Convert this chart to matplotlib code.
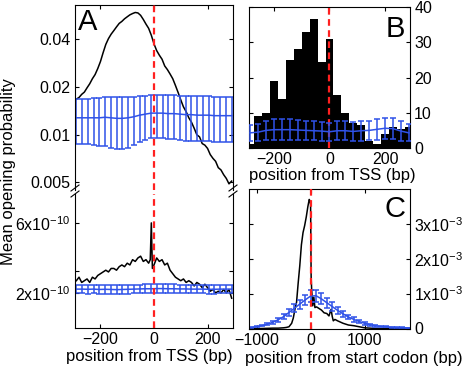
import matplotlib.pyplot as plt
plt.switch_backend('agg')
import numpy as np
from matplotlib.ticker import NullLocator, FixedLocator
from matplotlib.lines import Line2D

plt.rcParams['font.family'] = ['Liberation Sans', 'DejaVu Sans']
plt.rcParams['mathtext.default'] = 'regular'

BLUE = '#2f52e8'
RED = '#ff2020'
W, H = 463.0, 372.0

# ---- panel A, upper part (log axis) ----
a_x = np.arange(-290, 291, 10)
a_top_black = [0.0168, 0.0172, 0.0180, 0.0186, 0.0198, 0.0210, 0.0226, 0.0240, 0.0262, 0.0290,
               0.0330, 0.0372, 0.0405, 0.0432, 0.0455, 0.0480, 0.0505, 0.0520, 0.0540, 0.0556,
               0.0572, 0.0583, 0.0592, 0.0588, 0.0568, 0.0535, 0.0500, 0.0470, 0.0425, 0.0375,
               0.0340, 0.0318, 0.0300, 0.0272, 0.0258, 0.0242, 0.0226, 0.0205, 0.0185, 0.0166,
               0.0150, 0.0140, 0.0128, 0.0120, 0.0110, 0.0100, 0.0097, 0.0088, 0.0086, 0.0082,
               0.0075, 0.0071, 0.0068, 0.0062, 0.0060, 0.0056, 0.0053, 0.0049, 0.0051]

a_err_x = np.linspace(-290, 290, 28)
a_top_blue = [0.0128, 0.0128, 0.0128, 0.0128, 0.0128, 0.0129, 0.0128, 0.0127, 0.0127, 0.0128,
              0.0130, 0.0133, 0.0135, 0.0137, 0.0137, 0.0137, 0.0136, 0.0136, 0.0135, 0.0134,
              0.0134, 0.0133, 0.0133, 0.0133, 0.0132, 0.0132, 0.0132, 0.0132]
a_top_blue_err = [0.0040, 0.0040, 0.0041, 0.0042, 0.0043, 0.0044, 0.0045, 0.0046, 0.0046, 0.0045,
                  0.0044, 0.0043, 0.0042, 0.0042, 0.0042, 0.0042, 0.0042, 0.0042, 0.0042, 0.0042,
                  0.0042, 0.0042, 0.0042, 0.0042, 0.0042, 0.0042, 0.0042, 0.0042]

# ---- panel A, lower part (units of 1e-10) ----
a_bot_x = [-290, -280, -270, -260, -250, -240, -230, -220, -210, -200, -190, -180, -170, -160,
           -150, -140, -130, -120, -110, -100, -90, -80, -70, -60, -50, -40, -30, -20, -14, -10,
           -6, 0, 10, 20, 30, 40, 50, 60, 70, 80, 90, 100, 110, 120, 130, 140, 150, 160, 170,
           180, 190, 200, 210, 220, 230, 240, 250, 260, 270, 280, 290]
a_bot_black = [2.7, 2.9, 2.6, 2.7, 2.8, 2.6, 2.9, 2.8, 3.0, 3.1, 3.2, 3.3, 3.2, 3.4,
               3.4, 3.3, 3.5, 3.6, 3.5, 3.7, 3.6, 3.9, 3.8, 4.0, 4.1, 3.8, 3.9, 3.7, 3.9, 6.0,
               3.4, 3.6, 4.0, 3.8, 3.9, 3.6, 3.7, 3.3, 3.1, 2.9, 2.8, 2.7, 2.8, 2.6, 2.7, 2.6,
               2.4, 2.6, 2.5, 2.3, 2.5, 2.3, 2.1, 2.2, 2.0, 2.1, 2.0, 2.2, 2.0, 2.2, 1.7]
a_bot_blue = [2.22, 2.22, 2.21, 2.22, 2.20, 2.21, 2.20, 2.19, 2.20, 2.21, 2.22, 2.23, 2.24, 2.24,
              2.25, 2.25, 2.24, 2.24, 2.23, 2.23, 2.22, 2.22, 2.22, 2.21, 2.21, 2.22, 2.22, 2.22]
a_bot_blue_err = [0.25] * 28

# ---- panel B ----
b_edges = np.linspace(-300, 300, 22)
b_counts = [1, 9, 10, 19, 14, 25, 28, 33, 36.5, 24.5, 31, 15, 10, 7, 6.5, 2, 1, 4, 6, 5.5, 6]
b_blue = [4.3, 4.5, 5.0, 5.2, 5.2, 5.2, 5.1, 5.0, 4.9, 4.8, 4.6, 4.9, 4.9, 4.7, 4.9, 5.0,
          5.3, 5.6, 5.5, 4.8, 4.3]
b_blue_err = [2.2, 2.4, 2.8, 3.0, 3.0, 3.0, 2.9, 2.8, 2.7, 2.7, 2.6, 2.7, 2.7, 2.6, 2.8, 2.8,
              2.9, 3.0, 3.0, 2.8, 2.4]

# ---- panel C (units of 1e-3) ----
c_x = [-1140, -900, -700, -600, -500, -450, -400, -350, -320, -290, -260, -230, -200, -170,
       -140, -110, -80, -50, -25, -10, 0, 10, 20, 40, 60, 80, 110, 150, 200, 250, 300, 340,
       380, 400, 420, 450, 500, 600, 700, 800, 900, 1000, 1100, 1200, 1400, 1840]
c_black = [0, 0, 0.01, 0.01, 0.02, 0.03, 0.05, 0.15, 0.3, 0.55, 0.75, 1.3, 1.8, 2.4,
           2.75, 2.95, 3.2, 3.5, 3.7, 3.65, 3.55, 1.5, 1.1, 0.65, 0.9, 0.6, 0.62, 0.58, 0.53,
           0.45, 0.43, 0.36, 0.55, 0.35, 0.22, 0.26, 0.22, 0.15, 0.1, 0.08, 0.05, 0.02, 0.01,
           0, 0, 0]
c_blue_x = np.arange(-1100, 1801, 100)
c_blue = [0.03, 0.05, 0.08, 0.12, 0.18, 0.25, 0.34, 0.46, 0.58, 0.70, 0.82, 0.93, 0.94, 0.85,
          0.74, 0.63, 0.52, 0.42, 0.33, 0.26, 0.20, 0.15, 0.11, 0.08, 0.06, 0.045, 0.035,
          0.025, 0.02, 0.015]
c_blue_err = [0.01, 0.015, 0.02, 0.03, 0.04, 0.05, 0.07, 0.09, 0.11, 0.13, 0.15, 0.17, 0.17,
              0.16, 0.14, 0.12, 0.10, 0.09, 0.07, 0.06, 0.05, 0.04, 0.03, 0.025, 0.02, 0.015,
              0.012, 0.01, 0.01, 0.01]

TICK = 11.5
LAB = 12
LW = 1.1


def box(ax):
    ax.tick_params(direction='in', length=3, width=0.8, top=True, right=True,
                   labelsize=TICK, pad=3)
    for s in ax.spines.values():
        s.set_linewidth(0.8)


def red_line(ax):
    ax.axvline(0, color=RED, ls=(0, (3, 2)), lw=1.6, zorder=5)


def blue_bars(ax, x, y, e, **kw):
    ax.errorbar(x, y, yerr=e, color=BLUE, lw=LW, elinewidth=LW, capsize=2,
                capthick=LW, **kw)


fig = plt.figure(figsize=(W / 100, H / 100), dpi=100)

# A upper
ax1 = fig.add_axes([75 / W, 1 - 190 / H, 158 / W, 185 / H])
box(ax1)
ax1.plot(a_x, a_top_black, color='k', lw=LW)
blue_bars(ax1, a_err_x, a_top_blue, a_top_blue_err)
red_line(ax1)
ax1.set_yscale('log')
ax1.set_ylim(0.00448, 0.066)
ax1.set_xlim(-295, 295)
ax1.set_yticks([0.005, 0.01, 0.02, 0.04], labels=['0.005', '0.01', '0.02', '0.04'])
ax1.yaxis.set_minor_locator(NullLocator())
ax1.set_xticks([-200, 0, 200])
ax1.spines['bottom'].set_visible(False)
ax1.tick_params(axis='x', bottom=False, labelbottom=False)
ax1.text(0.02, 0.985, 'A', transform=ax1.transAxes, fontsize=21, va='top', ha='left')

# A lower
ax2 = fig.add_axes([75 / W, 1 - 328 / H, 158 / W, 134 / H])
box(ax2)
ax2.plot(a_bot_x, np.array(a_bot_black) * 1e-10, color='k', lw=LW)
blue_bars(ax2, a_err_x, np.array(a_bot_blue) * 1e-10, np.array(a_bot_blue_err) * 1e-10)
red_line(ax2)
ax2.set_xlim(-295, 295)
ax2.set_ylim(0, 7.65e-10)
ax2.set_yticks([2e-10, 6e-10], labels=['2x10$^{-10}$', '6x10$^{-10}$'])
ax2.yaxis.set_minor_locator(FixedLocator([3.25e-10]))
ax2.tick_params(axis='y', which='minor', direction='in', length=3, width=0.8, right=True)
ax2.set_xticks([-200, 0, 200])
ax2.spines['top'].set_visible(False)
ax2.tick_params(axis='x', top=False)
ax2.set_xlabel('position from TSS (bp)', fontsize=LAB, labelpad=3)
ax2.xaxis.set_label_coords(0.47, -0.16)

# break marks
for xb in (75, 233):
    for yb in (188, 194):
        fig.add_artist(Line2D([(xb - 4) / W, (xb + 4) / W], [1 - (yb + 3) / H, 1 - (yb - 3) / H],
                              color='k', lw=0.8))

fig.text(9 / W, 1 - 172 / H, 'Mean opening probability', rotation=90, fontsize=12,
         ha='center', va='center')

# B
ax3 = fig.add_axes([249 / W, 1 - 148 / H, 161 / W, 141 / H])
box(ax3)
b_centers = (b_edges[:-1] + b_edges[1:]) / 2
ax3.bar(b_centers, b_counts, width=b_edges[1] - b_edges[0], color='k', edgecolor='k', lw=0)
blue_bars(ax3, b_centers, b_blue, b_blue_err, zorder=6)
red_line(ax3)
ax3.set_xlim(-290, 290)
ax3.set_ylim(0, 40)
ax3.set_yticks([0, 10, 20, 30, 40])
ax3.set_xticks([-200, 0, 200])
ax3.tick_params(axis='y', labelleft=False, labelright=True)
ax3.set_xlabel('position from TSS (bp)', fontsize=LAB, labelpad=3)
ax3.xaxis.set_label_coords(0.52, -0.14)
ax3.text(0.97, 0.94, 'B', transform=ax3.transAxes, fontsize=21, va='top', ha='right')

# C
ax4 = fig.add_axes([249 / W, 1 - 328.5 / H, 161 / W, 139.5 / H])
box(ax4)
ax4.plot(c_x, np.array(c_black) * 1e-3, color='k', lw=LW)
blue_bars(ax4, c_blue_x, np.array(c_blue) * 1e-3, np.array(c_blue_err) * 1e-3)
red_line(ax4)
ax4.set_xlim(-1140, 1840)
ax4.set_ylim(0, 4e-3)
ax4.set_yticks([0, 1e-3, 2e-3, 3e-3],
               labels=['0', '1x10$^{-3}$', '2x10$^{-3}$', '3x10$^{-3}$'])
ax4.set_xticks([-1000, 0, 1000])
ax4.tick_params(axis='y', labelleft=False, labelright=True)
ax4.set_xlabel('position from start codon (bp)', fontsize=LAB, labelpad=3)
ax4.xaxis.set_label_coords(0.65, -0.16)
ax4.text(0.97, 0.96, 'C', transform=ax4.transAxes, fontsize=21, va='top', ha='right')

fig.savefig('out.png', dpi=100)
